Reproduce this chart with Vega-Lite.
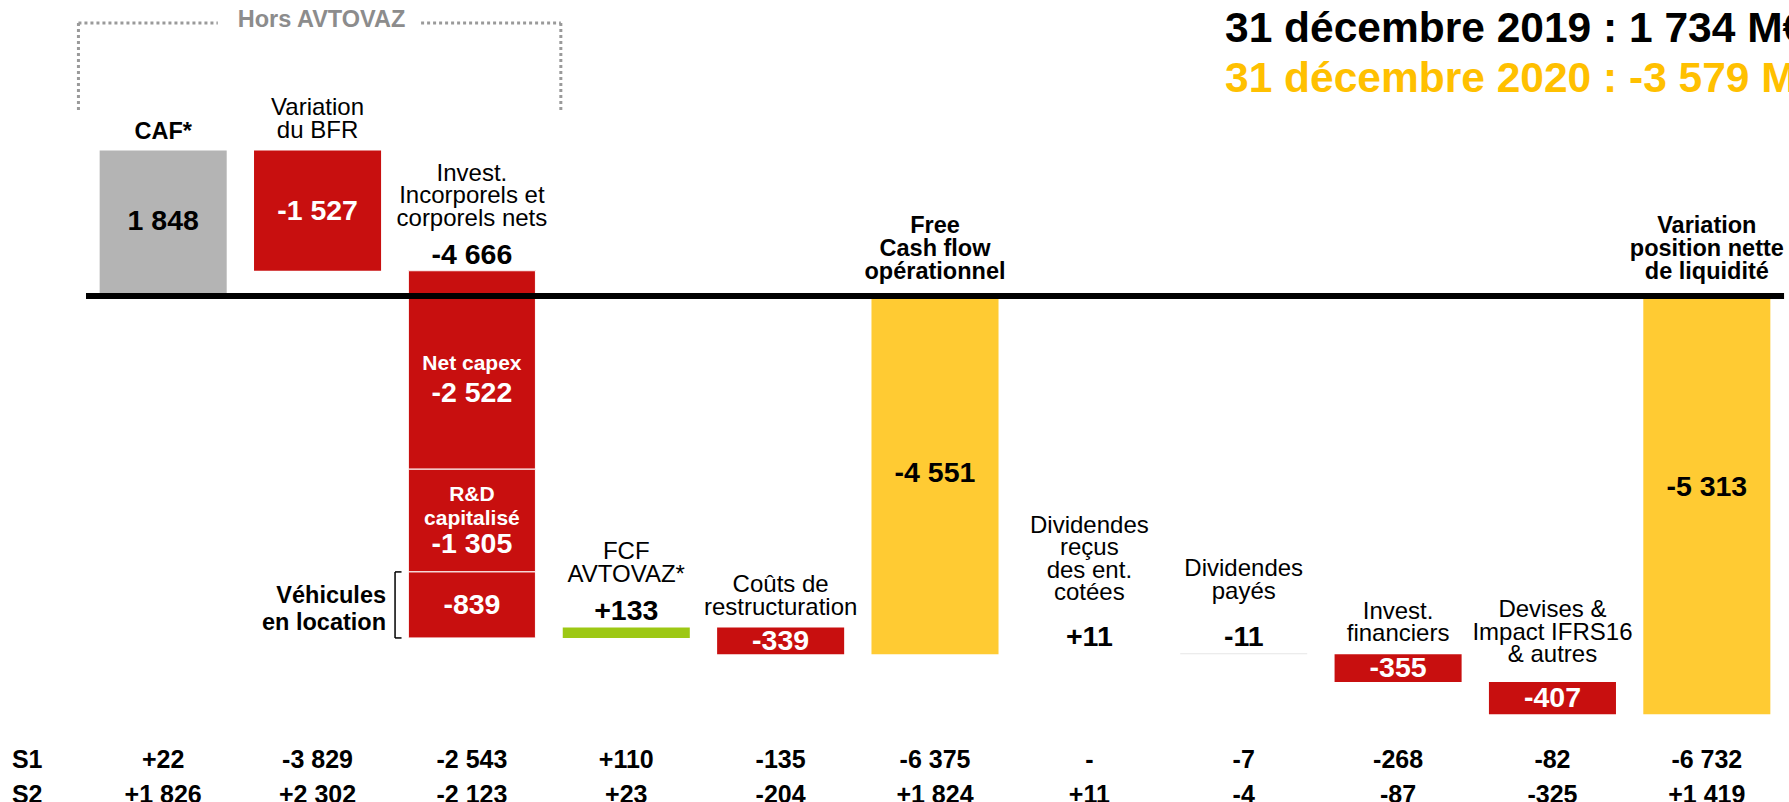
{
  "$schema": "https://vega.github.io/schema/vega-lite/v6.json",
  "width": 1789,
  "height": 802,
  "padding": 0,
  "autosize": {"type": "none"},
  "background": "#FFFFFF",
  "config": {
    "view": {"stroke": null},
    "axisX": {"disable": true},
    "axisQuantitative": {"disable": true},
    "text": {"font": "Liberation Sans", "color": "#000000"}
  },
  "title": {
    "text": "31 décembre 2019 : 1 734 M€",
    "subtitle": "31 décembre 2020 : -3 579 M€",
    "anchor": "start",
    "frame": "group",
    "orient": "top",
    "align": "left",
    "dx": 1225,
    "offset": -100.5,
    "font": "Liberation Sans",
    "fontSize": 42.5,
    "fontWeight": "bold",
    "color": "#000000",
    "subtitleFont": "Liberation Sans",
    "subtitleFontSize": 42.5,
    "subtitleFontWeight": "bold",
    "subtitleColor": "#FFC000",
    "subtitlePadding": 8
  },
  "datasets": {
    "cats": [
      {"key": "CAF", "name": "CAF*", "value": "1 848", "hi": 1848, "lo": 0, "kind": "caf"},
      {"key": "BFR", "name": "Variation\ndu BFR", "value": "-1 527", "hi": 1848, "lo": 321, "kind": "neg"},
      {"key": "Invest", "name": "Invest.\nIncorporels et\ncorporels nets", "value": "-4 666", "hi": 321, "lo": -4345, "kind": "neg"},
      {"key": "FCF_AVTOVAZ", "name": "FCF\nAVTOVAZ*", "value": "+133", "hi": -4212, "lo": -4345, "kind": "pos"},
      {"key": "Couts", "name": "Coûts de\nrestructuration", "value": "-339", "hi": -4212, "lo": -4551, "kind": "neg"},
      {"key": "FreeCF", "name": "Free\nCash flow\nopérationnel", "value": "-4 551", "hi": 0, "lo": -4551, "kind": "total"},
      {"key": "DivRecus", "name": "Dividendes\nreçus\ndes ent.\ncotées", "value": "+11", "hi": -4540, "lo": -4551, "kind": "div_in"},
      {"key": "DivPayes", "name": "Dividendes\npayés", "value": "-11", "hi": -4540, "lo": -4551, "kind": "div_out"},
      {"key": "InvestFin", "name": "Invest.\nfinanciers", "value": "-355", "hi": -4551, "lo": -4906, "kind": "neg"},
      {"key": "Devises", "name": "Devises &\nImpact IFRS16\n& autres", "value": "-407", "hi": -4906, "lo": -5313, "kind": "neg"},
      {"key": "VarPos", "name": "Variation\nposition nette\nde liquidité", "value": "-5 313", "hi": 0, "lo": -5313, "kind": "total"}
    ],
    "segments": [
      {"key": "Invest", "seg": "Net capex", "caption": "Net capex", "value": "-2 522", "hi": 321, "lo": -2201},
      {"key": "Invest", "seg": "R&D", "caption": "R&D\ncapitalisé", "value": "-1 305", "hi": -2201, "lo": -3506},
      {"key": "Invest", "seg": "Véh", "caption": "Véhicules\nen location", "value": "-839", "hi": -3506, "lo": -4345}
    ],
    "table": [
      {"key": "CAF", "row": "S1", "text": "+22"},
      {"key": "BFR", "row": "S1", "text": "-3 829"},
      {"key": "Invest", "row": "S1", "text": "-2 543"},
      {"key": "FCF_AVTOVAZ", "row": "S1", "text": "+110"},
      {"key": "Couts", "row": "S1", "text": "-135"},
      {"key": "FreeCF", "row": "S1", "text": "-6 375"},
      {"key": "DivRecus", "row": "S1", "text": "-"},
      {"key": "DivPayes", "row": "S1", "text": "-7"},
      {"key": "InvestFin", "row": "S1", "text": "-268"},
      {"key": "Devises", "row": "S1", "text": "-82"},
      {"key": "VarPos", "row": "S1", "text": "-6 732"},
      {"key": "CAF", "row": "S2", "text": "+1 826"},
      {"key": "BFR", "row": "S2", "text": "+2 302"},
      {"key": "Invest", "row": "S2", "text": "-2 123"},
      {"key": "FCF_AVTOVAZ", "row": "S2", "text": "+23"},
      {"key": "Couts", "row": "S2", "text": "-204"},
      {"key": "FreeCF", "row": "S2", "text": "+1 824"},
      {"key": "DivRecus", "row": "S2", "text": "+11"},
      {"key": "DivPayes", "row": "S2", "text": "-4"},
      {"key": "InvestFin", "row": "S2", "text": "-87"},
      {"key": "Devises", "row": "S2", "text": "-325"},
      {"key": "VarPos", "row": "S2", "text": "+1 419"}
    ]
  },
  "encoding": {
    "x": {
      "field": "key",
      "type": "nominal",
      "scale": {
        "domain": ["CAF", "BFR", "Invest", "FCF_AVTOVAZ", "Couts", "FreeCF", "DivRecus", "DivPayes", "InvestFin", "Devises", "VarPos"],
        "range": [86, 1784],
        "paddingInner": 0.177,
        "paddingOuter": 0.0885
      },
      "axis": null
    }
  },
  "layer": [
    {
      "layer": [
        {
          "data": {"name": "cats"},
          "mark": {"type": "bar"},
          "encoding": {
            "y": {"field": "hi", "type": "quantitative", "scale": {"domain": [-6429.5, 3761.1], "nice": false, "zero": false}, "axis": null},
            "y2": {"field": "lo"},
            "color": {
              "field": "kind",
              "type": "nominal",
              "scale": {
                "domain": ["caf", "neg", "pos", "total", "div_in", "div_out"],
                "range": ["#B4B4B4", "#C80F0F", "#9DC814", "#FFCB33", "#FFFFFF", "#E6E6E6"]
              },
              "legend": null
            }
          }
        },
        {
          "data": {"name": "segments"},
          "mark": {"type": "bar", "fill": "#C80F0F", "stroke": "#FFFFFF", "strokeWidth": 1},
          "encoding": {
            "y": {"field": "hi", "type": "quantitative"},
            "y2": {"field": "lo"}
          }
        },
        {
          "data": {"values": [{}]},
          "mark": {"type": "rule", "color": "#000000", "strokeWidth": 6},
          "encoding": {
            "x": {"datum": "CAF", "bandPosition": -0.1075},
            "x2": {"datum": "VarPos", "bandPosition": 1.108},
            "y": {"datum": 0}
          }
        },
        {
          "data": {"values": [{}]},
          "mark": {"type": "rule", "color": "#9A9A9A", "strokeWidth": 3, "strokeDash": [3, 3]},
          "encoding": {
            "x": {"datum": "CAF", "bandPosition": -0.167},
            "y": {"datum": 3469},
            "y2": {"datum": 2363}
          }
        },
        {
          "data": {"values": [{}]},
          "mark": {"type": "rule", "color": "#9A9A9A", "strokeWidth": 3, "strokeDash": [3, 3]},
          "encoding": {
            "x": {"datum": "Invest", "bandPosition": 1.2},
            "y": {"datum": 3469},
            "y2": {"datum": 2363}
          }
        },
        {
          "data": {"values": [{}]},
          "mark": {"type": "rule", "color": "#9A9A9A", "strokeWidth": 3, "strokeDash": [3, 3]},
          "encoding": {
            "x": {"datum": "CAF", "bandPosition": -0.167},
            "x2": {"datum": "CAF", "bandPosition": 0.93},
            "y": {"datum": 3469}
          }
        },
        {
          "data": {"values": [{}]},
          "mark": {"type": "rule", "color": "#9A9A9A", "strokeWidth": 3, "strokeDash": [3, 3]},
          "encoding": {
            "x": {"datum": "Invest", "bandPosition": 0.1},
            "x2": {"datum": "Invest", "bandPosition": 1.2},
            "y": {"datum": 3469}
          }
        },
        {
          "data": {"values": [{"t": "Hors AVTOVAZ"}]},
          "mark": {"type": "text", "fontSize": 23.5, "fontWeight": "bold", "color": "#8C8C8C", "baseline": "middle", "dy": -3, "dx": 4},
          "encoding": {
            "x": {"datum": "BFR"},
            "y": {"datum": 3469},
            "text": {"field": "t"}
          }
        },
        {
          "data": {"name": "cats"},
          "transform": [{"filter": {"field": "key", "oneOf": ["CAF"]}}],
          "mark": {"type": "text", "fontSize": 23.5, "fontWeight": "bold", "baseline": "bottom", "lineBreak": "\n", "lineHeight": 23, "dy": -7},
          "encoding": {"y": {"field": "hi", "type": "quantitative"}, "text": {"field": "name"}}
        },
        {
          "data": {"name": "cats"},
          "transform": [{"filter": {"field": "key", "oneOf": ["FreeCF", "VarPos"]}}],
          "mark": {"type": "text", "fontSize": 23.5, "fontWeight": "bold", "baseline": "bottom", "lineBreak": "\n", "lineHeight": 23, "dy": -58},
          "encoding": {"y": {"field": "hi", "type": "quantitative"}, "text": {"field": "name"}}
        },
        {
          "data": {"name": "cats"},
          "transform": [{"filter": {"field": "key", "oneOf": ["BFR", "Couts", "InvestFin"]}}],
          "mark": {"type": "text", "fontSize": 24, "baseline": "bottom", "lineBreak": "\n", "lineHeight": 22.5, "dy": -30.3},
          "encoding": {"y": {"field": "hi", "type": "quantitative"}, "text": {"field": "name"}}
        },
        {
          "data": {"name": "cats"},
          "transform": [{"filter": {"field": "key", "oneOf": ["Devises"]}}],
          "mark": {"type": "text", "fontSize": 24, "baseline": "bottom", "lineBreak": "\n", "lineHeight": 22.5, "dy": -60},
          "encoding": {"y": {"field": "hi", "type": "quantitative"}, "text": {"field": "name"}}
        },
        {
          "data": {"name": "cats"},
          "transform": [{"filter": {"field": "key", "oneOf": ["Invest"]}}],
          "mark": {"type": "text", "fontSize": 24, "baseline": "bottom", "lineBreak": "\n", "lineHeight": 22.5, "dy": -85},
          "encoding": {"y": {"field": "hi", "type": "quantitative"}, "text": {"field": "name"}}
        },
        {
          "data": {"name": "cats"},
          "transform": [{"filter": {"field": "key", "oneOf": ["FCF_AVTOVAZ"]}}],
          "mark": {"type": "text", "fontSize": 24, "baseline": "bottom", "lineBreak": "\n", "lineHeight": 22.5, "dy": -63},
          "encoding": {"y": {"field": "hi", "type": "quantitative"}, "text": {"field": "name"}}
        },
        {
          "data": {"name": "cats"},
          "transform": [{"filter": {"field": "key", "oneOf": ["DivRecus"]}}],
          "mark": {"type": "text", "fontSize": 24, "baseline": "bottom", "lineBreak": "\n", "lineHeight": 22.5, "dy": -115.5},
          "encoding": {"y": {"field": "hi", "type": "quantitative"}, "text": {"field": "name"}}
        },
        {
          "data": {"name": "cats"},
          "transform": [{"filter": {"field": "key", "oneOf": ["DivPayes"]}}],
          "mark": {"type": "text", "fontSize": 24, "baseline": "bottom", "lineBreak": "\n", "lineHeight": 22.5, "dy": -72},
          "encoding": {"y": {"field": "hi", "type": "quantitative"}, "text": {"field": "name"}}
        },
        {
          "data": {"name": "cats"},
          "transform": [{"filter": {"field": "key", "oneOf": ["Invest", "FCF_AVTOVAZ", "DivRecus", "DivPayes"]}}],
          "mark": {"type": "text", "fontSize": 28.5, "fontWeight": "bold", "baseline": "alphabetic", "dy": -7},
          "encoding": {"y": {"field": "hi", "type": "quantitative"}, "text": {"field": "value"}}
        },
        {
          "data": {"name": "cats"},
          "transform": [
            {"filter": {"field": "key", "oneOf": ["CAF", "FreeCF"]}},
            {"fold": ["hi", "lo"], "as": ["k", "v"]}
          ],
          "mark": {"type": "text", "fontSize": 28.5, "fontWeight": "bold", "baseline": "middle", "dy": -2.5},
          "encoding": {"y": {"field": "v", "aggregate": "mean", "type": "quantitative"}, "text": {"field": "value"}}
        },
        {
          "data": {"name": "cats"},
          "transform": [
            {"filter": {"field": "key", "oneOf": ["VarPos"]}},
            {"fold": ["hi", "lo"], "as": ["k", "v"]}
          ],
          "mark": {"type": "text", "fontSize": 28.5, "fontWeight": "bold", "baseline": "middle", "dy": -18},
          "encoding": {"y": {"field": "v", "aggregate": "mean", "type": "quantitative"}, "text": {"field": "value"}}
        },
        {
          "data": {"name": "cats"},
          "transform": [
            {"filter": {"field": "key", "oneOf": ["BFR", "Couts", "InvestFin", "Devises"]}},
            {"fold": ["hi", "lo"], "as": ["k", "v"]}
          ],
          "mark": {"type": "text", "fontSize": 28.5, "fontWeight": "bold", "baseline": "middle", "color": "#FFFFFF"},
          "encoding": {"y": {"field": "v", "aggregate": "mean", "type": "quantitative"}, "text": {"field": "value"}}
        },
        {
          "data": {"name": "segments"},
          "transform": [
            {"filter": {"field": "seg", "oneOf": ["Net capex"]}},
            {"fold": ["hi", "lo"], "as": ["k", "v"]}
          ],
          "mark": {"type": "text", "fontSize": 21, "fontWeight": "bold", "baseline": "bottom", "lineBreak": "\n", "lineHeight": 24, "color": "#FFFFFF", "dy": 4.5},
          "encoding": {"y": {"field": "v", "aggregate": "mean", "type": "quantitative"}, "text": {"field": "caption"}}
        },
        {
          "data": {"name": "segments"},
          "transform": [
            {"filter": {"field": "seg", "oneOf": ["R&D"]}},
            {"fold": ["hi", "lo"], "as": ["k", "v"]}
          ],
          "mark": {"type": "text", "fontSize": 21, "fontWeight": "bold", "baseline": "bottom", "lineBreak": "\n", "lineHeight": 24, "color": "#FFFFFF", "dy": -16},
          "encoding": {"y": {"field": "v", "aggregate": "mean", "type": "quantitative"}, "text": {"field": "caption"}}
        },
        {
          "data": {"name": "segments"},
          "transform": [
            {"filter": {"field": "seg", "oneOf": ["Net capex", "R&D"]}},
            {"fold": ["hi", "lo"], "as": ["k", "v"]}
          ],
          "mark": {"type": "text", "fontSize": 28.5, "fontWeight": "bold", "baseline": "alphabetic", "color": "#FFFFFF", "dy": 32.5},
          "encoding": {"y": {"field": "v", "aggregate": "mean", "type": "quantitative"}, "text": {"field": "value"}}
        },
        {
          "data": {"name": "segments"},
          "transform": [
            {"filter": {"field": "seg", "oneOf": ["Véh"]}},
            {"fold": ["hi", "lo"], "as": ["k", "v"]}
          ],
          "mark": {"type": "text", "fontSize": 28.5, "fontWeight": "bold", "baseline": "middle", "color": "#FFFFFF"},
          "encoding": {"y": {"field": "v", "aggregate": "mean", "type": "quantitative"}, "text": {"field": "value"}}
        },
        {
          "data": {"name": "segments"},
          "transform": [{"filter": {"field": "seg", "oneOf": ["Véh"]}}],
          "mark": {"type": "text", "fontSize": 23.5, "fontWeight": "bold", "baseline": "bottom", "align": "right", "lineBreak": "\n", "lineHeight": 27, "dy": -30},
          "encoding": {
            "x": {"field": "key", "type": "nominal", "bandPosition": -0.176},
            "y": {"field": "lo", "type": "quantitative"},
            "text": {"field": "caption"}
          }
        },
        {
          "data": {"name": "segments"},
          "transform": [{"filter": {"field": "seg", "oneOf": ["Véh"]}}],
          "mark": {"type": "rule", "color": "#000000", "strokeWidth": 1.5},
          "encoding": {
            "x": {"field": "key", "type": "nominal", "bandPosition": -0.105},
            "y": {"field": "hi", "type": "quantitative"},
            "y2": {"field": "lo"}
          }
        },
        {
          "data": {"name": "segments"},
          "transform": [
            {"filter": {"field": "seg", "oneOf": ["Véh"]}},
            {"fold": ["hi", "lo"], "as": ["k", "v"]}
          ],
          "mark": {"type": "rule", "color": "#000000", "strokeWidth": 1.5},
          "encoding": {
            "x": {"field": "key", "type": "nominal", "bandPosition": -0.105},
            "x2": {"field": "key", "bandPosition": -0.054},
            "y": {"field": "v", "type": "quantitative"}
          }
        }
      ]
    },
    {
      "data": {"name": "table"},
      "mark": {"type": "text", "fontSize": 25, "fontWeight": "bold", "baseline": "middle"},
      "encoding": {
        "y": {
          "field": "row",
          "type": "nominal",
          "scale": {"type": "point", "domain": ["S1", "S2"], "range": [759.5, 794.5], "padding": 0},
          "axis": {
            "orient": "left",
            "offset": -42,
            "domain": false,
            "ticks": false,
            "tickSize": 0,
            "grid": false,
            "labelPadding": 0,
            "labelFont": "Liberation Sans",
            "labelFontSize": 25,
            "labelFontWeight": "bold",
            "labelColor": "#000000",
            "title": null
          }
        },
        "text": {"field": "text"}
      }
    }
  ],
  "resolve": {"scale": {"y": "independent"}}
}
